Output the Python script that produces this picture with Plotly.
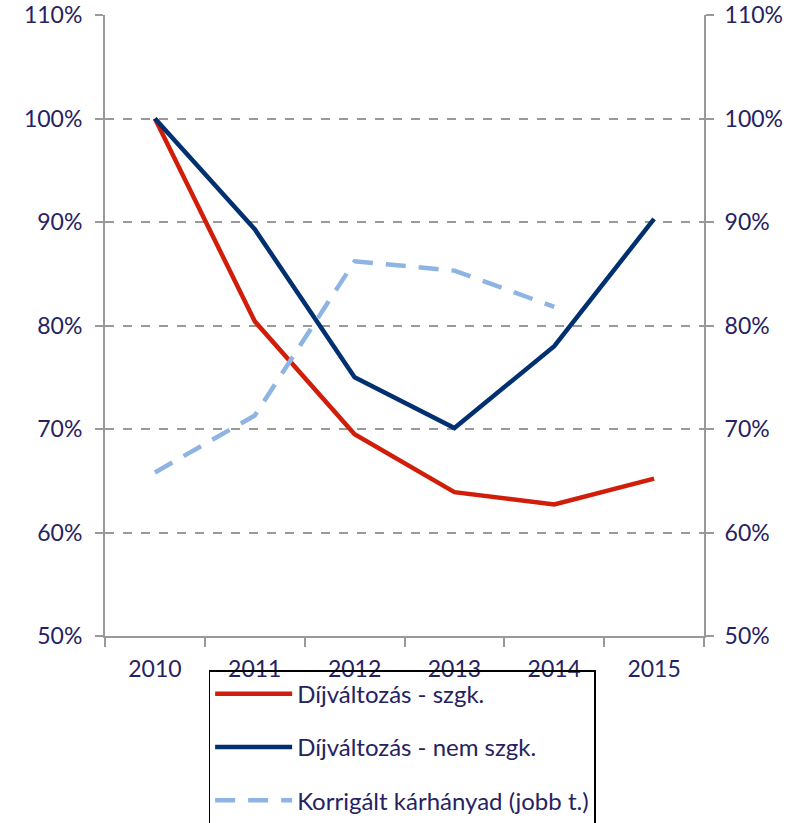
import plotly.graph_objects as go

years = ["2010", "2011", "2012", "2013", "2014", "2015"]
dij_szgk = [1.000, 0.804, 0.695, 0.639, 0.627, 0.652]
dij_nem_szgk = [1.000, 0.893, 0.750, 0.701, 0.780, 0.903]
korr_karhanyad = [0.658, 0.713, 0.862, 0.853, 0.818, None]

names = ["Díjváltozás - szgk.", "Díjváltozás - nem szgk.", "Korrigált kárhányad (jobb t.)"]
txt = "#262262"
grid = "#999999"
font_fam = "Lato, 'Open Sans', sans-serif"

fig = go.Figure()
fig.add_trace(go.Scatter(x=years, y=dij_szgk, name=names[0], mode="lines",
                         line=dict(color="#D01E0A", width=4.5), legendgroup="a"))
fig.add_trace(go.Scatter(x=years, y=dij_nem_szgk, name=names[1], mode="lines",
                         line=dict(color="#00306F", width=4.5), legendgroup="b"))
fig.add_trace(go.Scatter(x=years, y=korr_karhanyad, name=names[2], mode="lines",
                         line=dict(color="#8DB4E2", width=4.5, dash="20px,13px"),
                         legendgroup="c", yaxis="y2"))

yax = dict(range=[0.5, 1.1], dtick=0.1, tickformat=".0%", showline=True,
           linecolor=grid, linewidth=2, ticks="outside", ticklen=8, tickcolor=grid,
           tickwidth=1.5, tickfont=dict(size=23, color=txt, family=font_fam),
           zeroline=False, automargin=False, ticklabeloverflow="allow")

fig.update_layout(
    width=799, height=823,
    margin=dict(l=105, r=95, t=15, b=187, autoexpand=False),
    paper_bgcolor="white", plot_bgcolor="white",
    font=dict(family=font_fam, color=txt),
    xaxis=dict(type="category", range=[-0.5, 5.5], tickson="boundaries", ticks="outside",
               ticklen=9, tickcolor=grid, tickwidth=1.5, showline=True, linecolor=grid,
               linewidth=2, showgrid=False, automargin=False, ticklabelstandoff=11,
               tickfont=dict(size=23, color=txt, family=font_fam)),
    yaxis=dict(**yax, ticklabelstandoff=8, showgrid=True, gridcolor=grid, gridwidth=1.5,
               griddash="dash"),
    yaxis2=dict(**yax, ticklabelstandoff=6, overlaying="y", side="right", showgrid=False),
    showlegend=True,
    legend=dict(x=0.173, y=-0.055, xanchor="left", yanchor="top",
                bgcolor="rgba(0,0,0,0)", bordercolor="black", borderwidth=1.5,
                font=dict(size=24, color=txt, family=font_fam),
                traceorder="grouped", tracegroupgap=19, itemwidth=77),
)

fig.write_html("out.html", config={"displayModeBar": False},
               post_script="document.body.style.margin='0';")
